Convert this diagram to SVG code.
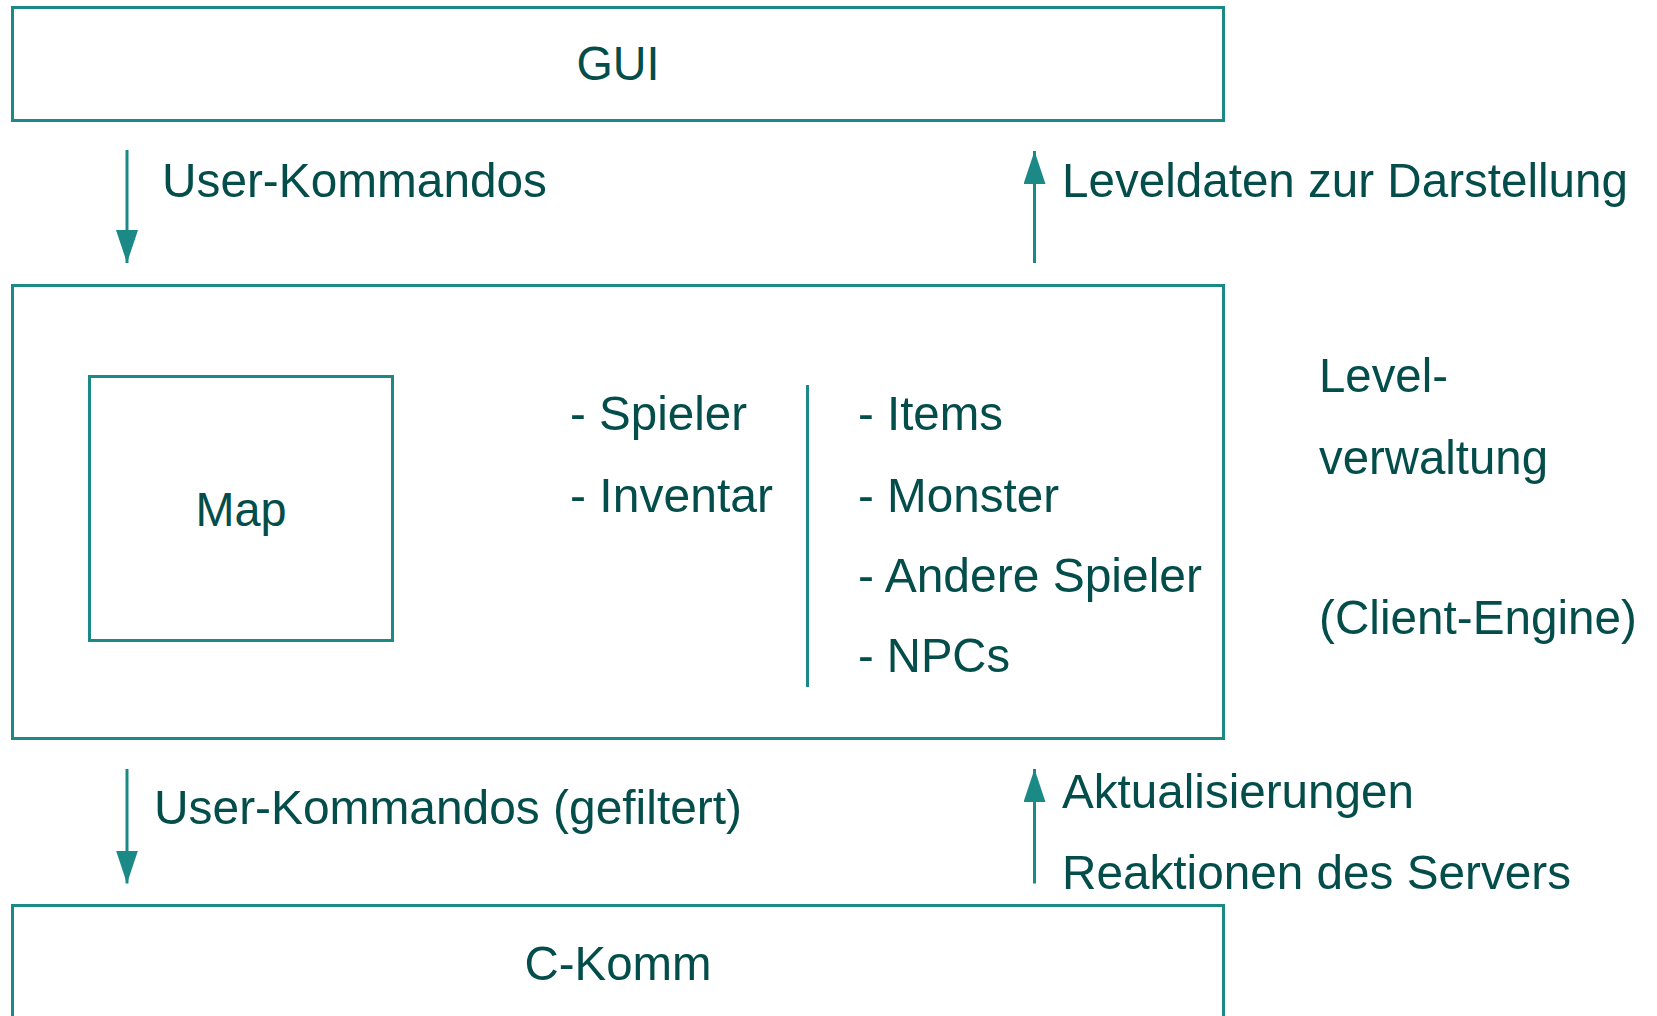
<svg xmlns="http://www.w3.org/2000/svg" width="1657" height="1016" viewBox="0 0 1657 1016">
<style>
.box{fill:none;stroke:#1b8a86;stroke-width:3}
.conn{stroke:#1b8a86;stroke-width:3;fill:none}
text{font-family:"Liberation Sans",Arial,sans-serif;font-size:49px;fill:#034d4a}
.c{text-anchor:middle}
</style>
<defs>
<marker id="ah" viewBox="0 0 33 22" refX="33" refY="11" markerWidth="33" markerHeight="22" markerUnits="userSpaceOnUse" orient="auto">
<path d="M0,0 L33,11 L0,22 z" fill="#1b8a86"/>
</marker>
</defs>
<rect width="1657" height="1016" fill="#ffffff"/>
<g id="gui">
<rect class="box" x="12.5" y="7.5" width="1211" height="113"/>
<text class="c" x="618" y="80" textLength="83" lengthAdjust="spacingAndGlyphs">GUI</text>
</g>
<g id="levelverwaltung">
<rect class="box" x="12.5" y="285.5" width="1211" height="453"/>
<text x="1319" y="392" textLength="129" lengthAdjust="spacingAndGlyphs">Level-</text>
<text x="1319" y="473.5" textLength="229" lengthAdjust="spacingAndGlyphs">verwaltung</text>
<text x="1319" y="634" textLength="318" lengthAdjust="spacingAndGlyphs">(Client-Engine)</text>
<line class="conn" x1="807.5" y1="385" x2="807.5" y2="687"/>
<text x="570" y="430" textLength="177" lengthAdjust="spacingAndGlyphs">- Spieler</text>
<text x="570" y="511.5" textLength="203" lengthAdjust="spacingAndGlyphs">- Inventar</text>
<text x="858" y="430" textLength="145" lengthAdjust="spacingAndGlyphs">- Items</text>
<text x="858" y="511.5" textLength="201" lengthAdjust="spacingAndGlyphs">- Monster</text>
<text x="858" y="592" textLength="344" lengthAdjust="spacingAndGlyphs">- Andere Spieler</text>
<text x="858" y="672" textLength="152" lengthAdjust="spacingAndGlyphs">- NPCs</text>
</g>
<g id="map">
<rect class="box" x="89.5" y="376.5" width="303" height="264"/>
<text class="c" x="241" y="526" textLength="91" lengthAdjust="spacingAndGlyphs">Map</text>
</g>
<g id="ckomm">
<rect class="box" x="12.5" y="905.5" width="1211" height="130"/>
<text class="c" x="618" y="980" textLength="187" lengthAdjust="spacingAndGlyphs">C-Komm</text>
</g>
<g id="connectors">
<line class="conn" x1="127" y1="150" x2="127" y2="263" marker-end="url(#ah)"/>
<text x="162" y="196.5" textLength="385" lengthAdjust="spacingAndGlyphs">User-Kommandos</text>
<line class="conn" x1="1034.5" y1="263" x2="1034.5" y2="151" marker-end="url(#ah)"/>
<text x="1062" y="196.5" textLength="566" lengthAdjust="spacingAndGlyphs">Leveldaten zur Darstellung</text>
<line class="conn" x1="127" y1="769" x2="127" y2="883.5" marker-end="url(#ah)"/>
<text x="154" y="824" textLength="588" lengthAdjust="spacingAndGlyphs">User-Kommandos (gefiltert)</text>
<line class="conn" x1="1034.5" y1="883.5" x2="1034.5" y2="769" marker-end="url(#ah)"/>
<text x="1062" y="807.5" textLength="352" lengthAdjust="spacingAndGlyphs">Aktualisierungen</text>
<text x="1062" y="889" textLength="509" lengthAdjust="spacingAndGlyphs">Reaktionen des Servers</text>
</g>
</svg>
